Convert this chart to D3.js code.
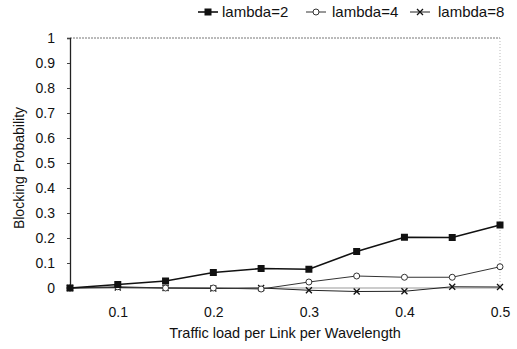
<!DOCTYPE html>
<html>
<head>
<meta charset="utf-8">
<script src="https://cdn.jsdelivr.net/npm/d3@7"></script>
<style>
  body { margin: 0; background: #fff; }
  text { font-family: "Liberation Sans", Arial, sans-serif; fill: #111; }
</style>
</head>
<body>
<div id="chart-area"></div>
<script>
const W = 517
const H = 349
const MARGIN = { LEFT: 70, RIGHT: 17, TOP: 38, BOTTOM: 61 }

// data
const loads = [0.05, 0.1, 0.15, 0.2, 0.25, 0.3, 0.35, 0.4, 0.45, 0.5]
const lambda2 = [0, 0.014, 0.028, 0.062, 0.078, 0.075, 0.146, 0.203, 0.202, 0.252]
const lambda4 = [0, 0.005, 0, 0, -0.004, 0.024, 0.048, 0.043, 0.043, 0.085]
const lambda8 = [0, 0.002, 0, -0.002, 0, -0.009, -0.014, -0.013, 0.005, 0.004]
const seriesNames = ["lambda=2", "lambda=4", "lambda=8"]
const xTicks = [0.1, 0.2, 0.3, 0.4, 0.5]
const yTicks = [0, 0.1, 0.2, 0.3, 0.4, 0.5, 0.6, 0.7, 0.8, 0.9, 1]

const series = [
  { name: seriesNames[0], values: lambda2, marker: "square" },
  { name: seriesNames[1], values: lambda4, marker: "circle" },
  { name: seriesNames[2], values: lambda8, marker: "cross" }
]

const svg = d3.select("#chart-area").append("svg")
  .attr("width", W)
  .attr("height", H)

const x = d3.scaleLinear().domain([0.05, 0.5]).range([MARGIN.LEFT, W - MARGIN.RIGHT])
const y = d3.scaleLinear().domain([0, 1]).range([H - MARGIN.BOTTOM, MARGIN.TOP])

// frame: dotted top and right, solid left
svg.append("line")
  .attr("x1", x(0.05)).attr("x2", x(0.5))
  .attr("y1", y(1)).attr("y2", y(1))
  .attr("stroke", "#777").attr("stroke-width", 1).attr("stroke-dasharray", "2,1")
svg.append("line")
  .attr("x1", x(0.5)).attr("x2", x(0.5))
  .attr("y1", y(1)).attr("y2", y(0))
  .attr("stroke", "#bbb").attr("stroke-width", 1).attr("stroke-dasharray", "1,2")
svg.append("line")
  .attr("x1", x(0.05)).attr("x2", x(0.5))
  .attr("y1", y(0)).attr("y2", y(0))
  .attr("stroke", "#999").attr("stroke-width", 1)

// y axis
const yAxis = svg.append("g")
  .attr("transform", `translate(${x(0.05)}, 0)`)
  .call(d3.axisLeft(y).tickValues(yTicks).tickSize(3).tickPadding(12)
    .tickFormat(d => d3.format("")(d)))
yAxis.select(".domain").attr("stroke", "#222").attr("stroke-width", 1.3)
yAxis.selectAll(".tick line").attr("stroke", "#444")
yAxis.selectAll(".tick text")
  .attr("font-size", 14)
  .attr("font-family", "Liberation Sans, Arial, sans-serif")
  .attr("fill", "#111")

// x axis (labels only)
const xAxis = svg.append("g")
  .attr("transform", `translate(0, ${y(0)})`)
  .call(d3.axisBottom(x).tickValues(xTicks).tickSize(0).tickPadding(19)
    .tickFormat(d3.format(".1f")))
xAxis.select(".domain").remove()
xAxis.selectAll(".tick text")
  .attr("font-size", 14)
  .attr("font-family", "Liberation Sans, Arial, sans-serif")
  .attr("fill", "#111")

// axis titles
svg.append("text")
  .attr("x", 285).attr("y", 338)
  .attr("text-anchor", "middle")
  .attr("font-size", 14.5)
  .text("Traffic load per Link per Wavelength")
svg.append("text")
  .attr("transform", "translate(24, 168) rotate(-90)")
  .attr("text-anchor", "middle")
  .attr("font-size", 14)
  .text("Blocking Probability")

// lines
const line = d3.line()
  .x((d, i) => x(loads[i]))
  .y(d => y(d))

const styles = {
  square: { stroke: "#111", width: 1.6 },
  circle: { stroke: "#333", width: 1 },
  cross: { stroke: "#222", width: 1 }
}

function drawMarker(g, type, cx, cy) {
  if (type === "square") {
    g.append("rect")
      .attr("x", cx - 3.5).attr("y", cy - 3.5)
      .attr("width", 7).attr("height", 7)
      .attr("fill", "#111")
  } else if (type === "circle") {
    g.append("circle")
      .attr("cx", cx).attr("cy", cy).attr("r", 3)
      .attr("fill", "#fff").attr("stroke", "#333").attr("stroke-width", 1)
  } else {
    g.append("path")
      .attr("d", `M${cx - 3},${cy - 3}L${cx + 3},${cy + 3}M${cx - 3},${cy + 3}L${cx + 3},${cy - 3}`)
      .attr("stroke", "#111").attr("stroke-width", 1.3)
  }
}

// draw from back to front so squares stay on top
series.slice().reverse().forEach(s => {
  const st = styles[s.marker]
  const g = svg.append("g")
  g.append("path")
    .datum(s.values)
    .attr("d", line)
    .attr("fill", "none")
    .attr("stroke", st.stroke)
    .attr("stroke-width", st.width)
  s.values.forEach((v, i) => drawMarker(g, s.marker, x(loads[i]), y(v)))
})

// legend
const legendPos = [
  { lx: 198, tx: 222 },
  { lx: 306, tx: 332 },
  { lx: 410, tx: 438 }
]
series.forEach((s, i) => {
  const p = legendPos[i]
  const st = styles[s.marker]
  const g = svg.append("g")
  g.append("line")
    .attr("x1", p.lx).attr("x2", p.lx + 20)
    .attr("y1", 12).attr("y2", 12)
    .attr("stroke", st.stroke).attr("stroke-width", st.width)
  drawMarker(g, s.marker, p.lx + 10, 12)
  g.append("text")
    .attr("x", p.tx).attr("y", 17)
    .attr("font-size", 15)
    .text(s.name)
})
</script>
</body>
</html>
